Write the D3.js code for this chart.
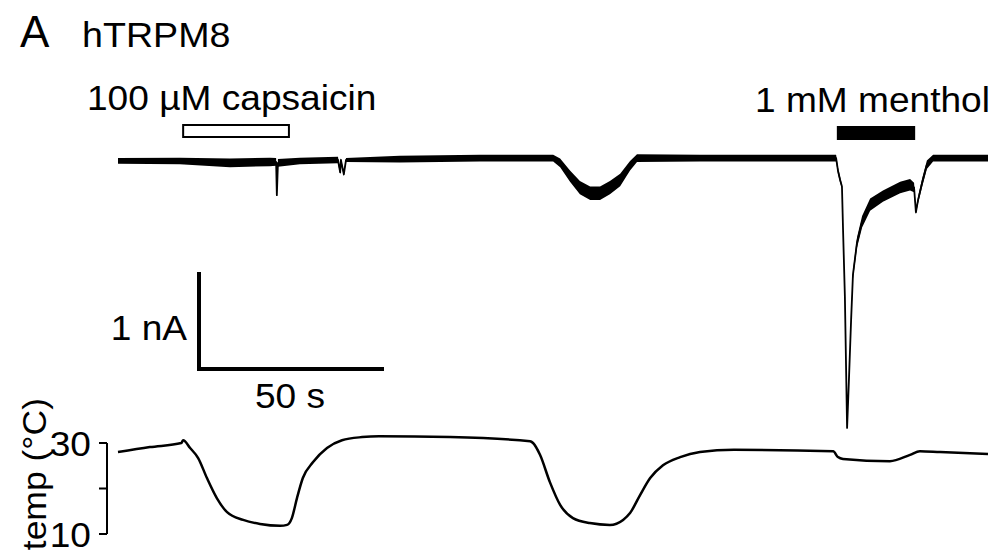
<!DOCTYPE html>
<html>
<head>
<meta charset="utf-8">
<script src="https://cdn.jsdelivr.net/npm/d3@7"></script>
<style>
  html, body { margin: 0; padding: 0; background: #fff; }
  text { font-family: "Liberation Sans", Arial, Helvetica, sans-serif; fill: #000; }
</style>
</head>
<body>
<script>
// Current trace: time (s), mean current (nA), noise half-amplitude (nA)
const currentTime = [0, 16.9, 30.6, 41.5, 43.2, 43.4, 43.7, 49.7, 60.1, 60.7, 60.9, 61.7, 62.3,
  77.0, 98.9, 118.9, 120.8, 123.5, 126.2, 129.0, 131.7, 134.4, 137.2, 139.9, 141.8,
  159.0, 180.9, 196.2, 196.7, 197.3, 197.8, 198.1, 198.6, 199.2, 199.7, 200.3, 200.8,
  201.9, 203.3, 205.5, 209.0, 213.7, 216.4, 217.5, 218.0, 218.6, 219.7, 221.0, 222.7, 237.7];
const currentValue = [-0.01, -0.01, -0.03, -0.02, -0.02, -0.37, -0.03, -0.01, 0.0, -0.13, 0.0, -0.15, 0.0,
  0.01, 0.02, 0.02, -0.03, -0.17, -0.29, -0.35, -0.35, -0.29, -0.21, -0.06, 0.02,
  0.02, 0.02, 0.02, -0.11, -0.21, -0.28, -0.74, -1.44, -2.82, -2.32, -1.68, -1.21,
  -0.87, -0.65, -0.47, -0.38, -0.29, -0.26, -0.29, -0.55, -0.42, -0.24, -0.05, 0.02, 0.02];
const currentNoise = [0.03, 0.035, 0.045, 0.045, 0.04, 0.01, 0.04, 0.035, 0.035, 0.02, 0.02, 0.02, 0.02,
  0.035, 0.035, 0.035, 0.045, 0.06, 0.07, 0.07, 0.07, 0.07, 0.065, 0.05, 0.04,
  0.035, 0.035, 0.035, 0.035, 0.03, 0.02, 0.015, 0.015, 0.01, 0.02, 0.03, 0.045,
  0.055, 0.06, 0.065, 0.06, 0.06, 0.06, 0.05, 0.02, 0.035, 0.045, 0.045, 0.035, 0.035];

// Temperature trace: time (s), bath temperature (°C)
const tempTime = [0, 8.7, 17.3, 17.8, 19.7, 21.9, 24.3, 27.0, 29.8, 34.2, 38.8, 44.3, 46.2, 47.5,
  48.9, 50.5, 53.3, 57.1, 61.2, 66.7, 71.3, 90.7, 112.6, 113.4, 115.3, 118.0, 120.8, 124.3,
  128.9, 134.4, 138.0, 139.9, 142.6, 145.4, 148.9, 153.6, 159.0, 168.3, 195.4, 196.7, 198.1,
  210.9, 216.4, 219.1, 224.6, 237.7];
const tempValue = [28.0, 29.1, 30.0, 30.6, 28.9, 26.7, 22.3, 17.9, 14.8, 13.1, 12.2, 11.8, 12.0, 13.5,
  17.9, 22.3, 25.8, 28.9, 30.6, 31.3, 31.5, 31.3, 30.4, 30.0, 27.4, 21.4, 16.4, 13.5,
  12.4, 12.0, 13.1, 14.6, 18.5, 22.3, 25.1, 26.9, 28.0, 28.5, 28.2, 26.9, 26.5,
  26.0, 27.4, 28.2, 28.0, 27.6];

// Drug applications (s)
const capsaicinOn = [17.8, 46.7];
const mentholOn = [196.4, 217.8];

// Scale bar sizes and temperature ticks
const scaleBarTime = 50;   // s
const scaleBarCurrent = 1; // nA
const tempTicks = [10, 20, 30];
const tempTickLabels = [10, 30];

const width = 997, height = 558;
const stretch = 1.06;

const svg = d3.select('body').append('svg')
  .attr('width', width)
  .attr('height', height);

const x = d3.scaleLinear().domain([0, 237.7]).range([118, 988]);
const yCur = d3.scaleLinear().domain([0, -1]).range([160, 255]);
const yTemp = d3.scaleLinear().domain([10, 30]).range([534, 443]);

function label(txt, px, py, size, anchor, rot) {
  return svg.append('text')
    .attr('transform', `translate(${px},${py})` + (rot ? ` rotate(${rot})` : '') + ` scale(${stretch},1)`)
    .attr('text-anchor', anchor || 'start')
    .attr('font-size', size)
    .text(txt);
}

// Titles
svg.append('text').attr('x', 20).attr('y', 47).attr('font-size', 44).text('A');
label('hTRPM8', 82, 47, 35.5);
label('100 µM capsaicin', 87, 110, 35);
label('1 mM menthol', 755, 112, 35);

// Drug bars
svg.append('rect')
  .attr('x', x(capsaicinOn[0])).attr('y', 125)
  .attr('width', x(capsaicinOn[1]) - x(capsaicinOn[0])).attr('height', 12)
  .attr('fill', '#fff').attr('stroke', '#000').attr('stroke-width', 2);
svg.append('rect')
  .attr('x', x(mentholOn[0])).attr('y', 126)
  .attr('width', x(mentholOn[1]) - x(mentholOn[0])).attr('height', 14)
  .attr('fill', '#000');

// Current trace: noise band + mean line
const cur = currentTime.map((t, i) => ({ t: t, v: currentValue[i], n: currentNoise[i] }));
svg.append('path')
  .datum(cur)
  .attr('fill', '#000')
  .attr('d', d3.area()
    .x(d => x(d.t))
    .y0(d => yCur(d.v + d.n))
    .y1(d => yCur(d.v - d.n)));
svg.append('path')
  .datum(cur)
  .attr('fill', 'none')
  .attr('stroke', '#000')
  .attr('stroke-width', 1.8)
  .attr('stroke-linejoin', 'round')
  .attr('d', d3.line().x(d => x(d.t)).y(d => yCur(d.v)));

// Scale bar
const sbX = 199, sbY = 369;
const sbW = x(scaleBarTime) - x(0);
const sbH = yCur(-scaleBarCurrent) - yCur(0);
svg.append('path')
  .attr('d', `M${sbX},${sbY - sbH}V${sbY}H${sbX + sbW}`)
  .attr('fill', 'none')
  .attr('stroke', '#000')
  .attr('stroke-width', 4)
  .attr('stroke-linecap', 'square');
label(scaleBarCurrent + ' nA', 187, 340, 35, 'end');
label(scaleBarTime + ' s', 255, 408, 35);

// Temperature axis
const tAxis = svg.append('g').attr('transform', 'translate(107,0)');
tAxis.append('line')
  .attr('y1', yTemp(30)).attr('y2', yTemp(10))
  .attr('stroke', '#000').attr('stroke-width', 2);
tAxis.selectAll('.tk').data(tempTicks).enter().append('line')
  .attr('x1', -8).attr('x2', 0)
  .attr('y1', d => yTemp(d)).attr('y2', d => yTemp(d))
  .attr('stroke', '#000').attr('stroke-width', 2);
tempTickLabels.forEach(v => label(String(v), 91, yTemp(v) + 13, 35, 'end'));
label('temp (°C)', 46, 398, 33.5, 'end', -90);

// Temperature trace
svg.append('path')
  .datum(tempTime.map((t, i) => ({ t: t, v: tempValue[i] })))
  .attr('fill', 'none')
  .attr('stroke', '#000')
  .attr('stroke-width', 2.5)
  .attr('stroke-linejoin', 'round')
  .attr('d', d3.line().x(d => x(d.t)).y(d => yTemp(d.v)).curve(d3.curveMonotoneX));
</script>
</body>
</html>
